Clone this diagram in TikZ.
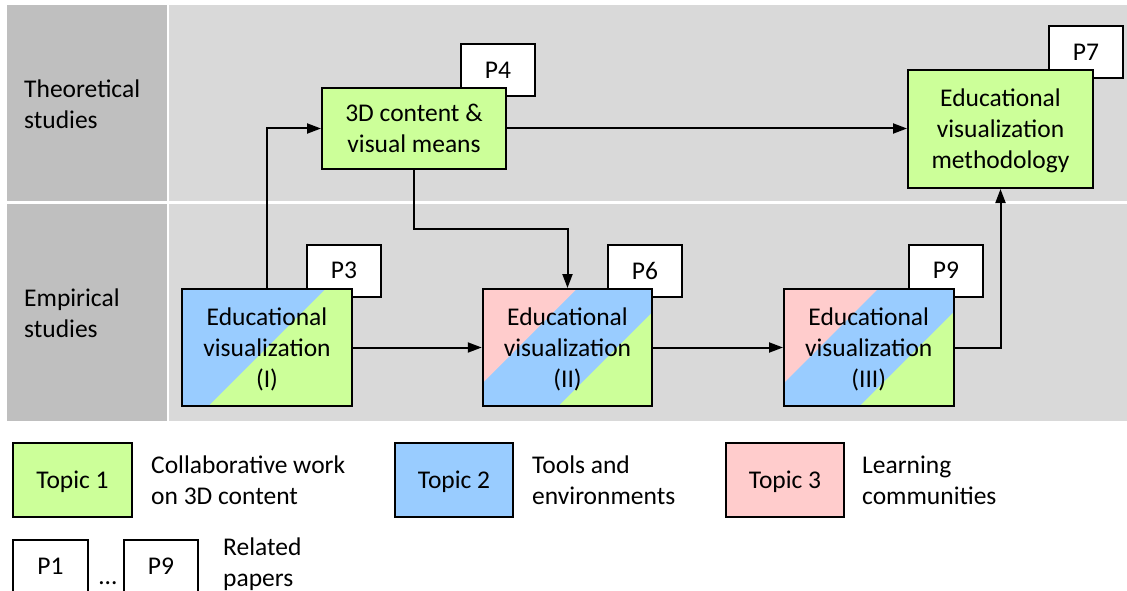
\documentclass[tikz,border=0pt]{standalone}
\usepackage{fontspec}
\setmainfont{Carlito}
\usetikzlibrary{arrows.meta,calc}
\definecolor{tgreen}{HTML}{CCFF99}
\definecolor{tblue}{HTML}{99CCFF}
\definecolor{tpink}{HTML}{FFCCCC}
\definecolor{colgrey}{HTML}{BFBFBF}
\definecolor{maingrey}{HTML}{D9D9D9}
\begin{document}
\begin{tikzpicture}[x=1pt,y=-1pt,
  txt/.style={font=\fontsize{25.5}{31}\selectfont},
  box/.style={txt,draw=black,line width=2pt,inner sep=0pt,align=center,text depth=-2pt},
  paper/.style={box,fill=white,minimum width=74pt,minimum height=52pt},
  lbl/.style={txt,anchor=west,align=left,inner sep=0pt},
  arr/.style={line width=2pt,-{Triangle[length=14pt,width=10pt]}},
  evbox/.style={box,minimum width=169.5pt,minimum height=117pt},
  evone/.style={evbox,fill=tblue,path picture={
    \coordinate (pc) at (path picture bounding box.center);
    \fill[tgreen] ($(pc)+(-300,300)$) -- ($(pc)+(300,-300)$) -- ($(pc)+(300,300)$) -- cycle;}},
  evthree/.style={evbox,fill=tblue,path picture={
    \coordinate (pc) at (path picture bounding box.center);
    \fill[tpink] ($(pc)+(-349.5,300)$) -- ($(pc)+(250.5,-300)$) -- ($(pc)+(-300,-300)$) -- cycle;
    \fill[tgreen] ($(pc)+(-250.5,300)$) -- ($(pc)+(349.5,-300)$) -- ($(pc)+(300,300)$) -- cycle;}}
]
\fill[white] (0,0) rectangle (1127,591);
\useasboundingbox (0,0) rectangle (1127,591);
% backgrounds
\fill[colgrey] (7,5) rectangle (167,201);
\fill[colgrey] (7,204) rectangle (167,421);
\fill[maingrey] (169,5) rectangle (1127,201);
\fill[maingrey] (169,204) rectangle (1127,421);
\node[lbl] (theo) at (24,104) {Theoretical\\studies};
\node[lbl] (emp) at (24,313) {Empirical\\studies};
% paper boxes
\node[paper] (p4) at (498,70) {P4};
\node[paper] (p7) at (1086,52) {P7};
\node[paper] (p3) at (344,270.5) {P3};
\node[paper] (p6) at (645,270.5) {P6};
\node[paper] (p9) at (946,270.5) {P9};
% main boxes
\node[box,fill=tgreen,minimum width=184pt,minimum height=81pt] (d3) at (414,128.5) {3D content \&\\visual means};
\node[box,fill=tgreen,minimum width=185pt,minimum height=118pt] (meth) at (1000.5,129) {Educational\\visualization\\methodology};
\node[evone] (ev1) at (267,347.5) {Educational\\visualization\\(I)};
\node[evthree] (ev2) at (567.5,347.5) {Educational\\visualization\\(II)};
\node[evthree] (ev3) at (868.75,347.5) {Educational\\visualization\\(III)};
% connectors
\coordinate (mid) at (567.5,229);
\draw[arr] (ev1.north) |- (d3.west);
\draw[arr] (d3.east) -- (meth.west |- d3.east);
\draw[arr] (d3.south) |- (mid) -- (ev2.north);
\draw[arr] (ev1.east) -- (ev2.west);
\draw[arr] (ev2.east) -- (ev3.west);
\draw[arr] (ev3.east) -| (meth.south);
% legend
\node[box,fill=tgreen,minimum width=119pt,minimum height=74pt] (t1) at (72.5,480) {Topic 1};
\node[lbl] (t1l) at (151,480) {Collaborative work\\on 3D content};
\node[box,fill=tblue,minimum width=118pt,minimum height=74pt] (t2) at (454,480) {Topic 2};
\node[lbl] (t2l) at (532,480) {Tools and\\environments};
\node[box,fill=tpink,minimum width=118pt,minimum height=74pt] (t3) at (785,480) {Topic 3};
\node[lbl] (t3l) at (862,480) {Learning\\communities};
\node[paper,minimum width=75pt] (lp1) at (50.5,566) {P1};
\node[paper] (lp9) at (161,566) {P9};
\node[txt,inner sep=0pt] (dots) at (108,583) {…};
\node[lbl] (rel) at (223,564) {Related\\papers};
\end{tikzpicture}
\end{document}
